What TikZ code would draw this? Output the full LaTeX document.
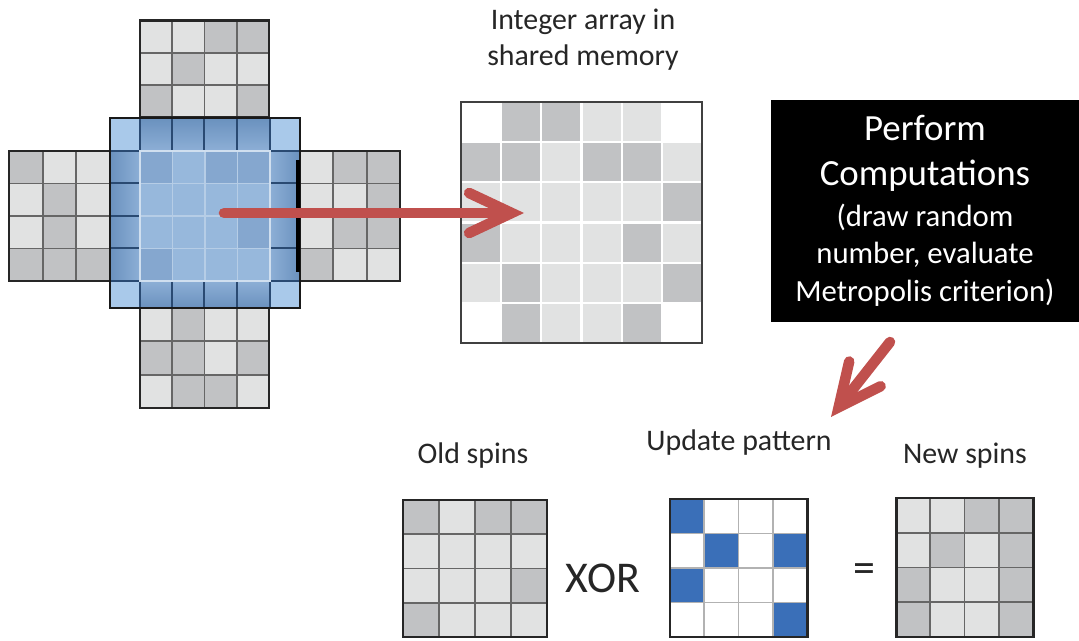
\documentclass[tikz,border=0pt]{standalone}
\usepackage{fontspec}
\setmainfont{Carlito}
\usetikzlibrary{arrows.meta,positioning}

\definecolor{cellL}{HTML}{E1E2E2}
\definecolor{cellD}{HTML}{C1C2C4}
\definecolor{cellW}{HTML}{FFFFFF}
\definecolor{cellB}{HTML}{3A6FB8}
\definecolor{cellP}{HTML}{97B8DC}
\definecolor{cellQ}{HTML}{85A7CF}
\definecolor{haloedge}{HTML}{6A91BE}
\definecolor{halofade}{HTML}{8DAFD6}
\definecolor{halocorner}{HTML}{A9C9EA}
\definecolor{haloline}{HTML}{2A4A72}
\definecolor{arrowred}{HTML}{C0504D}

\tikzset{
  cellline/.style={draw=black!60, line width=1.1pt},
  gridborder/.style={draw=black!85, line width=1.7pt},
  flowarrow/.style={draw=arrowred, line width=6pt, line cap=round,
    -{Straight Barb[length=0.85cm, width=0.8cm, line cap=round, line join=miter]}},
  spinlabel/.style={font=\fontsize{17}{20.4}\selectfont, align=center, text=black!85},
  computebox/.style={fill=black, text=white, minimum width=6.16cm, minimum height=4.44cm,
    align=center, inner sep=0pt, font=\fontsize{17.5}{21.5}\selectfont}
}

% [line styles] x0 y0 x1 y1 cols rows {colour letters, row by row}
\newcommand{\spingrid}[8][]{%
  \begin{scope}[#1]
    \foreach [count=\j] \row in {#8} {
      \foreach [count=\i] \s in \row {
        \fill[fill=cell\s] ({#2+(\i-1)*(#4-#2)/#6},{#3+(\j-1)*(#5-#3)/#7})
          rectangle ({#2+\i*(#4-#2)/#6},{#3+\j*(#5-#3)/#7});
      }
    }
    \foreach \i in {1,...,#6} \draw[cellline] ({#2+\i*(#4-#2)/#6},#3) -- ({#2+\i*(#4-#2)/#6},#5);
    \foreach \j in {1,...,#7} \draw[cellline] (#2,{#3+\j*(#5-#3)/#7}) -- (#4,{#3+\j*(#5-#3)/#7});
    \draw[gridborder] (#2,#3) rectangle (#4,#5);
  \end{scope}
}

\begin{document}
\begin{tikzpicture}[x=0.02cm, y=-0.02cm]
 \useasboundingbox (0,0) rectangle (1079,641);

 % neighbour tiles around the block
 \spingrid{140}{21}{269}{117}{4}{3}{{L,L,D,D},{L,D,L,L},{D,L,L,D}}
 \spingrid{9}{151}{110}{281}{3}{4}{{D,L,L},{L,D,L},{L,D,L},{D,D,D}}
 \spingrid{300}{151}{400}{281}{3}{4}{{L,D,D},{L,L,D},{L,D,D},{D,L,L}}
 \spingrid{140}{308}{269}{408}{4}{3}{{L,D,L,L},{D,D,L,D},{L,D,D,L}}

 % block with its halo
 \fill[halocorner] (110,118) rectangle (300,308);
 \shade[top color=haloedge, bottom color=halofade] (140,118) rectangle (270,151);
 \shade[top color=halofade, bottom color=haloedge] (140,281) rectangle (270,308);
 \shade[left color=haloedge, right color=halofade] (110,151) rectangle (140,281);
 \shade[left color=halofade, right color=haloedge] (270,151) rectangle (300,281);
 \foreach \x in {140,172,204,237,270} {
   \draw[haloline, line width=0.9pt] (\x,118) -- (\x,151);
   \draw[haloline, line width=0.9pt] (\x,281) -- (\x,308);
 }
 \foreach \y in {151,183,216,248,281} {
   \draw[haloline, line width=0.9pt] (110,\y) -- (140,\y);
   \draw[haloline, line width=0.9pt] (270,\y) -- (300,\y);
 }
 \spingrid[cellline/.style={draw=cellP!70!white, line width=0.8pt},
   gridborder/.style={draw=cellP!45!white, line width=1.2pt}]
   {140}{151}{270}{281}{4}{4}{{Q,P,Q,Q},{P,P,P,P},{P,P,P,Q},{Q,P,P,P}}
 \draw[black!90, line width=1.7pt] (110,118) rectangle (300,308);
 \draw[black, line width=2.8pt] (298,160) -- (298,272);

 % shared memory copy
 \node[spinlabel] (arraylabel) at (583,40) {Integer array in\\shared memory};
 \spingrid[cellline/.style={draw=white, line width=1.2pt},
   gridborder/.style={draw=black!75, line width=1.4pt}]
   {461}{102}{702}{343}{6}{6}{{W,D,D,L,L,W},{D,D,L,D,D,L},{L,L,L,L,L,D},{D,L,L,L,D,L},{L,D,L,L,L,D},{W,D,L,L,D,W}}

 \coordinate (haloout) at (224,213);
 \coordinate (arrayin) at (524,213);
 \draw[flowarrow] (haloout) -- (arrayin);

 \node[computebox] (compute) at (925,211)
   {{\fontsize{21}{25}\selectfont Perform}\\[4pt]
    {\fontsize{21}{25}\selectfont Computations}\\[1.7pt]
    (draw random\\number, evaluate\\Metropolis criterion)};

 \coordinate (computeout) at (890,342);
 \coordinate (patternin) at (831,417);
 \draw[flowarrow] (computeout) -- (patternin);

 % spin update
 \node[spinlabel] (oldlabel) at (473,456) {Old spins};
 \node[spinlabel] (updatelabel) at (739,443) {Update pattern};
 \node[spinlabel] (newlabel) at (965,456) {New spins};
 \spingrid{403}{500}{547}{637}{4}{4}{{D,L,D,D},{L,L,L,L},{L,L,L,D},{D,L,L,L}}
 \spingrid[cellline/.style={draw=black!30, line width=1.1pt}]
   {670}{499}{807}{637}{4}{4}{{B,W,W,W},{W,B,W,B},{B,W,W,W},{W,W,W,B}}
 \spingrid{896}{498}{1033}{637}{4}{4}{{L,L,D,D},{L,D,L,D},{D,L,L,D},{D,L,L,D}}
 \node[font=\fontsize{25}{30}\selectfont, text=black!85] (xorsign) at (603,578) {XOR};
 \node[font=\fontsize{25}{30}\selectfont, text=black!85] (equalsign) at (864,573) {=};
\end{tikzpicture}
\end{document}
